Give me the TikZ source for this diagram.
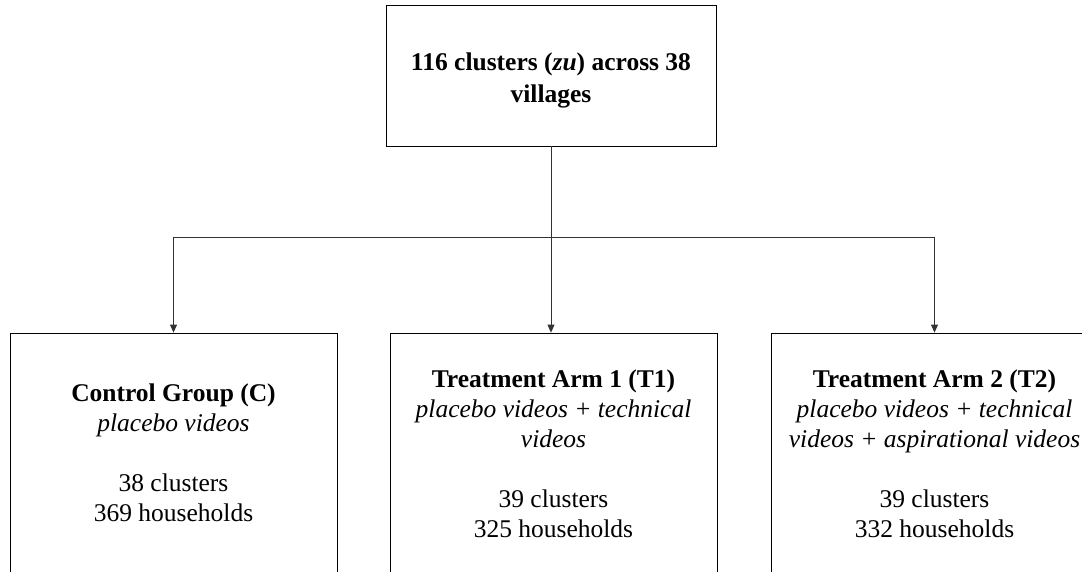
\documentclass[tikz,border=0pt]{standalone}
\usepackage{fontspec}
\setmainfont{Liberation Serif}
\usepackage{tikz}
\usetikzlibrary{shapes,arrows,arrows.meta,positioning}
\tikzstyle{groupBox} = [
  draw,
  line width=0.8pt,
  shape=rectangle,
  inner sep=0pt]
\tikzstyle{armText} = [
  align=center,
  inner sep=0pt,
  font=\fontsize{25.5pt}{30pt}\selectfont]
\tikzstyle{link} = [line width=0.8pt, black!80]
\tikzstyle{arrowLink} = [link, -{Triangle[length=8pt,width=7pt]}]
\newcommand{\arm}[2]{\textbf{#1}\\ \textit{#2}}

\begin{document}
\begin{tikzpicture}[x=1pt, y=-1pt]
  \clip (0,0) rectangle (1082,571);
  \useasboundingbox (0,0) rectangle (1082,571);
  % top box
  \node[groupBox, minimum width=330pt, minimum height=141pt] (all) at (551,75.5) {};
  \node[armText, font=\fontsize{25.5pt}{32pt}\selectfont] (allText) at ([yshift=-5pt]all.center)
    {\textbf{116 clusters (\textit{zu}) across 38}\\ \textbf{villages}};
  % three arms (bottom part cut off)
  \node[groupBox, minimum width=327pt, minimum height=267pt] (ctrl) at (173.5,466.5) {};
  \node[groupBox, minimum width=327pt, minimum height=267pt] (tone) at (553.5,466.5) {};
  \node[groupBox, minimum width=327pt, minimum height=267pt] (ttwo) at (934.5,466.5) {};
  \node[armText] (ctrlText) at ([yshift=-120pt]ctrl.north)
    {\arm{Control Group (C)}{placebo videos}\\ \\ 38 clusters\\ 369 households};
  \node[armText] (toneText) at ([yshift=-121pt]tone.north)
    {\arm{Treatment Arm 1 (T1)}{placebo videos + technical}\\ \textit{videos}\\ \\ 39 clusters\\ 325 households};
  \node[armText] (ttwoText) at ([yshift=-121pt]ttwo.north)
    {\arm{Treatment Arm 2 (T2)}{placebo videos + technical}\\ \textit{videos + aspirational videos}\\ \\ 39 clusters\\ 332 households};
  % connectors
  \coordinate (split) at (all.south |- 0,237);
  \draw[link] (all.south) -- (split);
  \draw[link] (ctrl.north |- split) -- (ttwo.north |- split);
  \draw[arrowLink] (ctrl.north |- split) -- (ctrl.north);
  \draw[arrowLink] (split) -- (all.south |- tone.north);
  \draw[arrowLink] (ttwo.north |- split) -- (ttwo.north);
\end{tikzpicture}
\end{document}
